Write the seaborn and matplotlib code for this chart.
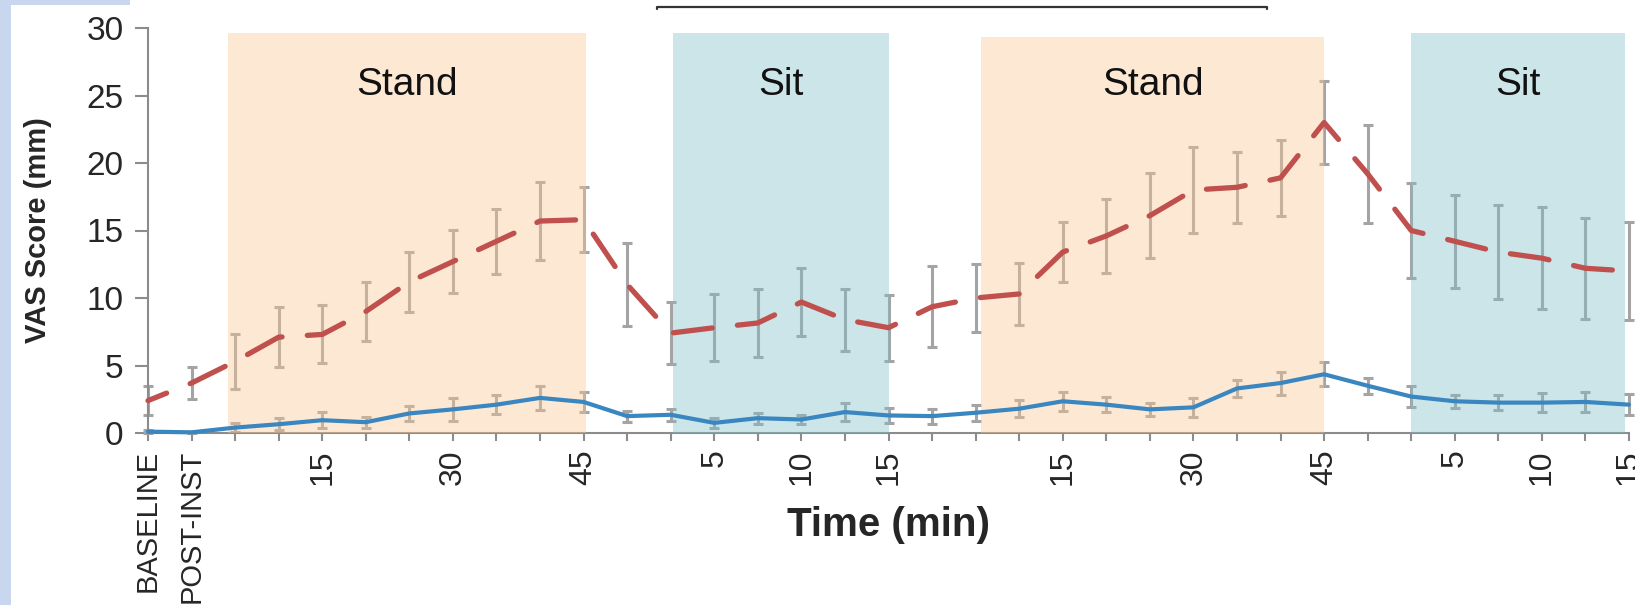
import numpy as np
import matplotlib
matplotlib.use('Agg')
import matplotlib.pyplot as plt
import matplotlib.lines as mlines
import matplotlib.patches as mpatches
import pandas as pd
import seaborn as sns

# time points (categorical, evenly spaced)
tick_labels = ['BASELINE', 'POST-INST', '', '', '15', '', '', '30', '', '', '45',
               '', '', '5', '', '10', '', '15',
               '', '', '', '15', '', '', '30', '', '', '45',
               '', '', '5', '', '10', '', '15']

red_mean = [2.4, 3.7, 5.3, 7.1, 7.3, 9.0, 11.2, 12.7, 14.2, 15.7, 15.8,
            11.0, 7.4, 7.8, 8.15, 9.7, 8.4, 7.8,
            9.35, 10.0, 10.3, 13.4, 14.6, 16.1, 18.0, 18.2, 18.9, 23.0,
            19.2, 15.0, 14.2, 13.4, 12.95, 12.2, 12.0]
red_err = [1.05, 1.2, 2.05, 2.2, 2.15, 2.2, 2.2, 2.35, 2.4, 2.9, 2.4,
           3.1, 2.3, 2.5, 2.5, 2.5, 2.3, 2.45,
           3.0, 2.55, 2.3, 2.25, 2.75, 3.15, 3.15, 2.65, 2.8, 3.1,
           3.65, 3.5, 3.45, 3.5, 3.8, 3.75, 3.6]

blue_mean = [0.1, 0.05, 0.4, 0.65, 0.95, 0.8, 1.45, 1.75, 2.1, 2.6, 2.3,
             1.25, 1.35, 0.75, 1.1, 1.0, 1.55, 1.3,
             1.25, 1.5, 1.8, 2.35, 2.1, 1.75, 1.9, 3.3, 3.7, 4.35,
             3.5, 2.7, 2.35, 2.25, 2.25, 2.3, 2.1]
blue_err = [0.1, 0.05, 0.35, 0.45, 0.6, 0.4, 0.55, 0.85, 0.7, 0.9, 0.75,
            0.4, 0.45, 0.35, 0.4, 0.35, 0.65, 0.55,
            0.55, 0.6, 0.65, 0.7, 0.55, 0.5, 0.7, 0.65, 0.85, 0.9,
            0.6, 0.75, 0.5, 0.55, 0.7, 0.75, 0.8]

# posture periods
phase_names = ['Stand', 'Sit', 'Stand', 'Sit']
phase_start = [1.84, 12.05, 19.13, 29.0]
phase_end = [10.05, 17.0, 27.0, 33.9]
phase_top = [29.6, 29.6, 29.3, 29.6]
phase_color = {'Stand': '#fac891', 'Sit': '#7fbfca'}

df = pd.DataFrame({'idx': np.arange(len(tick_labels)),
                   'red': red_mean, 'red_err': red_err,
                   'blue': blue_mean, 'blue_err': blue_err})

sns.set_style('ticks')
plt.rcParams['font.family'] = ['Liberation Sans', 'DejaVu Sans']
gray = '#8c8c8c'

fig = plt.figure(figsize=(16.35, 6.05), dpi=100)
ax = fig.add_axes([148 / 1635, 1 - 433 / 605, 1481 / 1635, 405 / 605])

# error bars (under the shaded periods)
for col in ['red', 'blue']:
    ax.errorbar(df['idx'], df[col], yerr=df[col + '_err'], fmt='none', ecolor='#a4a4a4',
                elinewidth=2.2, capsize=3.8, capthick=2.2, zorder=2, clip_on=False)

for name, s, e, top in zip(phase_names, phase_start, phase_end, phase_top):
    ax.fill_between([s, e], 0, top, color=phase_color[name], alpha=0.4, lw=0, zorder=3)
    ax.text((s + e) / 2, 25.8, name, ha='center', va='center', fontsize=28,
            color='#111111', zorder=6)

sns.lineplot(data=df, x='idx', y='red', color='#c0504d', lw=3.8,
             linestyle=(3.6, (7.4, 4.8)), dash_capstyle='round', ax=ax, zorder=4, clip_on=False)
sns.lineplot(data=df, x='idx', y='blue', color='#3a86c0', lw=3.0, ax=ax, zorder=4,
             clip_on=False)

ax.set_xlim(0, 34)
ax.set_ylim(0, 30)
ax.set_yticks([0, 5, 10, 15, 20, 25, 30])
ax.set_xticks(df['idx'])
ax.set_xticklabels(tick_labels)
sns.despine(ax=ax)
for sp in ['left', 'bottom']:
    ax.spines[sp].set_color(gray)
    ax.spines[sp].set_linewidth(1.5)
ax.tick_params(axis='y', length=9.5, width=1.5, color=gray, pad=8, labelsize=24)
ax.tick_params(axis='x', length=6, width=1.5, color=gray, pad=6, labelsize=23,
               labelrotation=90)
for t in ax.get_xticklabels():
    if t.get_text() in ('BASELINE', 'POST-INST'):
        t.set_fontsize(21)

ax.set_ylabel('VAS Score (mm)', fontsize=21, fontweight='bold')
ax.yaxis.set_label_coords(-0.065, 0.5)
ax.set_xlabel('Time (min)', fontsize=29, fontweight='bold')
ax.xaxis.set_label_coords(0.5, -0.18)

# bracket at the top and the light blue frame of the screenshot
fig.add_artist(mlines.Line2D([0.402, 0.402, 0.775, 0.775], [0.985, 0.988, 0.988, 0.985],
                             transform=fig.transFigure, color='#333333', lw=1.6))
fig.add_artist(mpatches.Rectangle((0, 0), 11 / 1635, 1, transform=fig.transFigure,
                                  color='#c9d7ee', lw=0))
fig.add_artist(mpatches.Rectangle((0, 1 - 5 / 605), 130 / 1635, 5 / 605,
                                  transform=fig.transFigure, color='#c9d7ee', lw=0))

fig.savefig('out.png', dpi=100)
